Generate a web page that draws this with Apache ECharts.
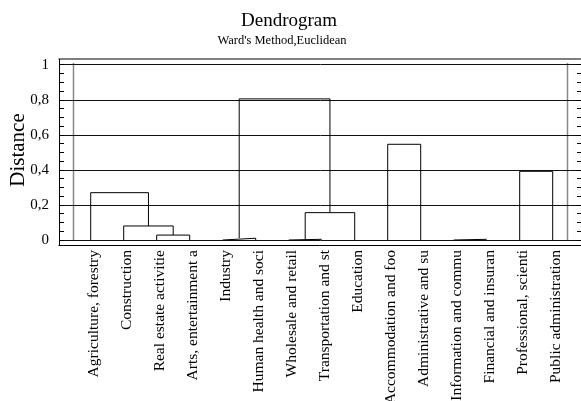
<!DOCTYPE html>
<html>
<head>
<meta charset="utf-8">
<script src="https://cdn.jsdelivr.net/npm/echarts@6/dist/echarts.min.js"></script>
<style>
  html, body { margin: 0; padding: 0; background: #fff; }
  #chart { width: 581px; height: 401px; }
</style>
</head>
<body>
<div id="chart"></div>
<script>
// Leaf labels, in dendrogram order
const categories = [
  'Agriculture, forestry', 'Construction', 'Real estate activitie', 'Arts, entertainment a',
  'Industry', 'Human health and soci', 'Wholesale and retail', 'Transportation and st',
  'Education', 'Accommodation and foo', 'Administrative and su', 'Information and commu',
  'Financial and insuran', 'Professional, scienti', 'Public administration'
];

// Merge steps: ids 0..14 are leaves, each merge creates the next id (15, 16, ...)
const mergeLeft   = [11, 6, 4, 2, 1, 16, 0, 13, 9, 17];
const mergeRight  = [12, 7, 5, 3, 18, 8, 19, 14, 10, 20];
const mergeHeight = [0.004, 0.004, 0.01, 0.028, 0.08, 0.156, 0.27, 0.392, 0.546, 0.805];

const yTickValues = [0, 0.2, 0.4, 0.6, 0.8, 1];
const yTickLabels = ['0', '0,2', '0,4', '0,6', '0,8', '1'];

const FONT = '"Liberation Serif", "Times New Roman", serif';

// Node positions: leaves sit at their index, merges at the midpoint of their children
const nodeX = categories.map((_, i) => i);
const nodeY = categories.map(() => 0);
const links = [];
mergeLeft.forEach((l, k) => {
  const r = mergeRight[k];
  const h = mergeHeight[k];
  links.push([[nodeX[l], nodeY[l]], [nodeX[l], h], [nodeX[r], h], [nodeX[r], nodeY[r]]]);
  nodeX.push((nodeX[l] + nodeX[r]) / 2);
  nodeY.push(h);
});

const chart = echarts.init(document.getElementById('chart'), null, { renderer: 'canvas' });

const tickLabel = v => {
  const idx = yTickValues.findIndex(t => Math.abs(t - v) < 1e-9);
  return idx >= 0 ? yTickLabels[idx] : '';
};

const option = {
  animation: false,
  backgroundColor: '#fff',
  grid: [
    { left: 59, top: 64.7, width: 523, height: 175.3, outerBoundsMode: 'none', containLabel: false },
    { left: 77.2, top: 64.7, width: 495, height: 175.3, outerBoundsMode: 'none', containLabel: false }
  ],
  xAxis: [
    { gridIndex: 0, type: 'value', min: 0, max: 1, show: false },
    {
      gridIndex: 1, type: 'category', data: categories, boundaryGap: true, position: 'bottom',
      axisLine: { show: false }, axisTick: { show: false }, splitLine: { show: false },
      axisLabel: { rotate: 90, interval: 0, margin: 10, fontSize: 15.5, fontFamily: FONT, color: '#000' }
    },
    { gridIndex: 1, type: 'value', min: -0.409, max: 14.591, show: false }
  ],
  yAxis: [
    {
      gridIndex: 0, type: 'value', min: 0, max: 1, interval: 0.2, position: 'left',
      axisLine: { show: false },
      axisTick: { show: true, inside: true, length: 5, lineStyle: { color: '#000' } },
      minorTick: { show: true, splitNumber: 4, length: 5, lineStyle: { color: '#000' } },
      splitLine: { show: true, lineStyle: { color: '#111', width: 1 } },
      axisLabel: { formatter: tickLabel, fontSize: 15, margin: 10, color: '#000', fontFamily: FONT }
    },
    {
      gridIndex: 0, type: 'value', min: 0, max: 1, interval: 0.2, position: 'right',
      axisLine: { show: false },
      axisTick: { show: true, inside: true, length: 5, lineStyle: { color: '#000' } },
      minorTick: { show: true, splitNumber: 4, length: 5, lineStyle: { color: '#000' } },
      splitLine: { show: false },
      axisLabel: { show: false }
    },
    { gridIndex: 1, type: 'value', min: 0, max: 1, show: false }
  ],
  series: links.map(pts => ({
    type: 'line',
    xAxisIndex: 2,
    yAxisIndex: 2,
    data: pts,
    symbol: 'none',
    clip: false,
    silent: true,
    lineStyle: { color: '#000', width: 1 }
  })),
  graphic: [
    { type: 'text', x: 289, y: 21, style: { text: 'Dendrogram', font: '19px ' + FONT, fill: '#000', align: 'center', verticalAlign: 'middle' } },
    { type: 'text', x: 282, y: 40.5, style: { text: "Ward's Method,Euclidean", font: '12.5px ' + FONT, fill: '#000', align: 'center', verticalAlign: 'middle' } },
    { type: 'text', x: 18, y: 150, rotation: Math.PI / 2, style: { text: 'Distance', font: '21px ' + FONT, fill: '#000', align: 'center', verticalAlign: 'middle' } },
    // plot frame
    { type: 'line', shape: { x1: 58.5, y1: 59, x2: 581, y2: 59 }, style: { stroke: '#555', lineWidth: 1.5 } },
    { type: 'line', shape: { x1: 58.5, y1: 245.5, x2: 581, y2: 245.5 }, style: { stroke: '#000', lineWidth: 1 } },
    { type: 'line', shape: { x1: 59.5, y1: 59, x2: 59.5, y2: 245.5 }, style: { stroke: '#000', lineWidth: 1 } },
    { type: 'line', shape: { x1: 73.5, y1: 63, x2: 73.5, y2: 241 }, style: { stroke: '#888', lineWidth: 1.5 } },
    { type: 'line', shape: { x1: 567.5, y1: 63, x2: 567.5, y2: 241 }, style: { stroke: '#888', lineWidth: 1.5 } }
  ]
};

chart.setOption(option);
</script>
</body>
</html>
